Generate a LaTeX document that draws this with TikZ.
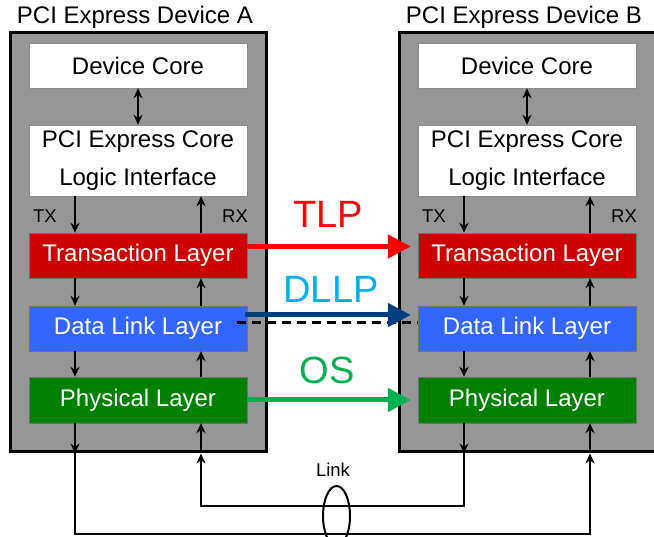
\documentclass[tikz,border=0pt]{standalone}
\usepackage{fontspec}
\setmainfont{Liberation Sans}
\usetikzlibrary{arrows.meta}

\definecolor{devgray}{RGB}{150,150,150}
\definecolor{transred}{RGB}{204,0,0}
\definecolor{dllblue}{RGB}{51,102,255}
\definecolor{phygreen}{RGB}{0,128,0}
\definecolor{tlpred}{RGB}{255,0,0}
\definecolor{dllpcyan}{RGB}{0,176,240}
\definecolor{dllpnavy}{RGB}{0,64,128}
\definecolor{osgreen}{RGB}{0,176,80}

\newcommand*{\devshift}{389}
\newcommand*{\wirelow}{80}
\newcommand*{\wirehigh}{53}

\begin{document}
\begin{tikzpicture}
[
	x=1pt, y=-1pt,
	>={Stealth[length=10pt,width=9pt]},
	devbox/.style={draw=black,line width=3pt,fill=devgray,minimum width=256pt,minimum height=419pt,inner sep=0pt},
	whitebox/.style={draw=black!45,fill=white,minimum width=218pt,inner sep=0pt,font=\fontsize{24}{38}\selectfont},
	layer/.style={draw=black!55,fill=#1,text=white,minimum width=218pt,minimum height=45pt,inner sep=0pt,font=\fontsize{24}{26}\selectfont},
	devtitle/.style={inner sep=0pt,font=\fontsize{24}{26}\selectfont},
	lanelabel/.style={inner sep=0pt,font=\fontsize{18.5}{20}\selectfont},
	packet/.style={inner sep=0pt,font=\fontsize{38}{40}\selectfont},
	lane/.style={line width=2pt},
	flow/.style={line width=5pt,-{Triangle[length=23pt,width=23pt]},shorten >=7pt},
]

	\useasboundingbox (0,0) rectangle (654,537);

	% the two devices
	\foreach \d/\o in {A/0,B/\devshift} {
		\node[devbox] (box\d) at (\o+138,242.5) {};
		\node[devtitle] (title\d) at (\o+135,17) {PCI Express Device \d};
		\node[whitebox,minimum height=45pt] (core\d) at (\o+138,65.5) {Device Core};
		\node[whitebox,minimum height=71pt,align=center] (logic\d) at (\o+138,160.5) {PCI Express Core\\Logic Interface};
		\node[layer=transred] (trans\d) at (\o+138,255.5) {Transaction Layer};
		\node[layer=dllblue] (dll\d) at (\o+138,328.5) {Data Link Layer};
		\node[layer=phygreen,minimum height=46pt] (phy\d) at (\o+138,400) {Physical Layer};
		\node[lanelabel] (tx\d) at (\o+45,216) {TX};
		\node[lanelabel] (rx\d) at (\o+235,216) {RX};
		\coordinate (txlane\d) at (\o+75,0);
		\coordinate (rxlane\d) at (\o+201,0);

		\draw[lane,<->] (core\d) -- (logic\d);
		% transmit side
		\draw[lane,->] (logic\d.south -| txlane\d) -- (trans\d.north -| txlane\d);
		\draw[lane,->] (trans\d.south -| txlane\d) -- (dll\d.north -| txlane\d);
		\draw[lane,->] (dll\d.south -| txlane\d) -- (phy\d.north -| txlane\d);
		\draw[lane,->] (phy\d.south -| txlane\d) -- (box\d.south -| txlane\d);
		% receive side
		\draw[lane,->] (trans\d.north -| rxlane\d) -- (logic\d.south -| rxlane\d);
		\draw[lane,->] (dll\d.north -| rxlane\d) -- (trans\d.south -| rxlane\d);
		\draw[lane,->] (phy\d.north -| rxlane\d) -- (dll\d.south -| rxlane\d);
		\draw[lane,->] (box\d.south -| rxlane\d) -- (phy\d.south -| rxlane\d);
	}

	% link wires
	\draw[lane,->] (boxA.south -| txlaneA) -- ++(0,\wirelow) -| (boxB.south -| rxlaneB);
	\draw[lane,->] (boxB.south -| txlaneB) -- ++(0,\wirehigh) -| (boxA.south -| rxlaneA);
	\draw[lane] (336.5,516) ellipse [x radius=13.5, y radius=30];
	\node[lanelabel] (link) at (333,470) {Link};

	% packets between the layers
	\draw[flow,tlpred] ([yshift=9pt]transA.east) -- ([yshift=9pt]transB.west);
	\node[packet,tlpred] (tlp) at (328,214) {TLP};

	\draw[line width=3pt,dash pattern=on 9pt off 6pt] ([xshift=-10pt,yshift=5.5pt]dllA.east) -- ([yshift=5.5pt]dllB.west);
	\draw[flow,dllpnavy,shorten <=-2pt] ([yshift=13.5pt]dllA.east) -- ([yshift=13.5pt]dllB.west);
	\node[packet,dllpcyan] (dllp) at (331,289) {DLLP};

	\draw[flow,osgreen] (phyA.east) -- (phyB.west);
	\node[packet,osgreen] (os) at (327,370) {OS};

\end{tikzpicture}
\end{document}
